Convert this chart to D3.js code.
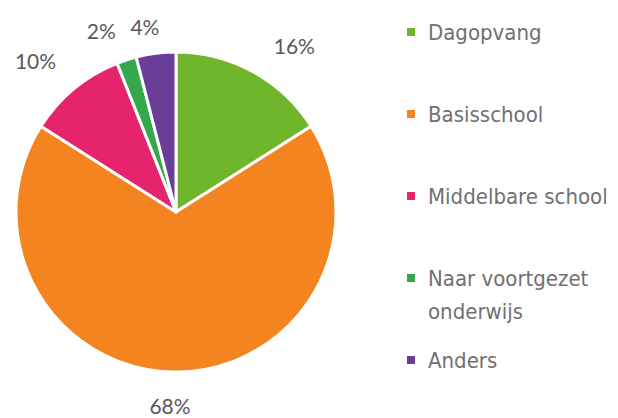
<!DOCTYPE html>
<html>
<head>
<meta charset="utf-8">
<script src="https://cdn.jsdelivr.net/npm/d3@7"></script>
<style>
  body { margin: 0; background: #fff; }
</style>
</head>
<body>
<div id="chart"></div>
<script>
let categories = ['Dagopvang', 'Basisschool', 'Middelbare school', 'Naar voortgezet onderwijs', 'Anders'];
let legendLines = [['Dagopvang'], ['Basisschool'], ['Middelbare school'], ['Naar voortgezet', 'onderwijs'], ['Anders']];
let values = [16, 68, 10, 2, 4];
let colors = ['#70b62c', '#f3841f', '#e5246b', '#34a84a', '#6a3d98'];

let svgWidth = 618;
let svgHeight = 418;
let cx = 176, cy = 212, radius = 160;

let svg = d3.select('#chart')
            .append('svg')
                .attr('width', svgWidth)
                .attr('height', svgHeight);

let pie = d3.pie().sort(null).value(d => d);
let arcs = pie(values);

let arc = d3.arc().innerRadius(0).outerRadius(radius);
let labelArc = d3.arc().innerRadius(200).outerRadius(200);

let g = svg.append('g')
    .attr('transform', `translate(${cx}, ${cy})`);

g.selectAll('path')
    .data(arcs)
    .join('path')
        .attr('d', arc)
        .attr('fill', (d, i) => colors[i])
        .attr('stroke', '#fff')
        .attr('stroke-width', 3)
        .attr('stroke-linejoin', 'round');

// excel-ish label placement, small nudges off the centroid
let nudge = [[22, 9], [-6, -7], [-13, 3], [-13, 9], [-6, 13]];

g.selectAll('text.pct')
    .data(arcs)
    .join('text')
        .attr('class', 'pct')
        .attr('x', (d, i) => labelArc.centroid(d)[0] + nudge[i][0])
        .attr('y', (d, i) => labelArc.centroid(d)[1] + nudge[i][1])
        .attr('text-anchor', 'middle')
        .attr('dominant-baseline', 'central')
        .attr('font-family', 'Lato, "Open Sans", sans-serif')
        .attr('font-size', 21)
        .attr('fill', '#595959')
        .text(d => d.data + '%');

// legend
let legend = svg.append('g')
    .attr('transform', 'translate(407, 32)');

let rows = legend.selectAll('g')
    .data(categories)
    .join('g')
        .attr('transform', (d, i) => `translate(0, ${i * 82})`);

rows.append('rect')
    .attr('x', 0)
    .attr('y', -4)
    .attr('width', 8)
    .attr('height', 8)
    .attr('fill', (d, i) => colors[i]);

rows.append('text')
    .attr('font-family', '"DejaVu Sans Condensed", "DejaVu Sans", sans-serif')
    .attr('font-size', 22)
    .attr('fill', '#707072')
    .selectAll('tspan')
    .data((d, i) => legendLines[i])
    .join('tspan')
        .attr('x', 21)
        .attr('y', (d, j) => 8 + j * 33)
        .text(d => d);
</script>
</body>
</html>
